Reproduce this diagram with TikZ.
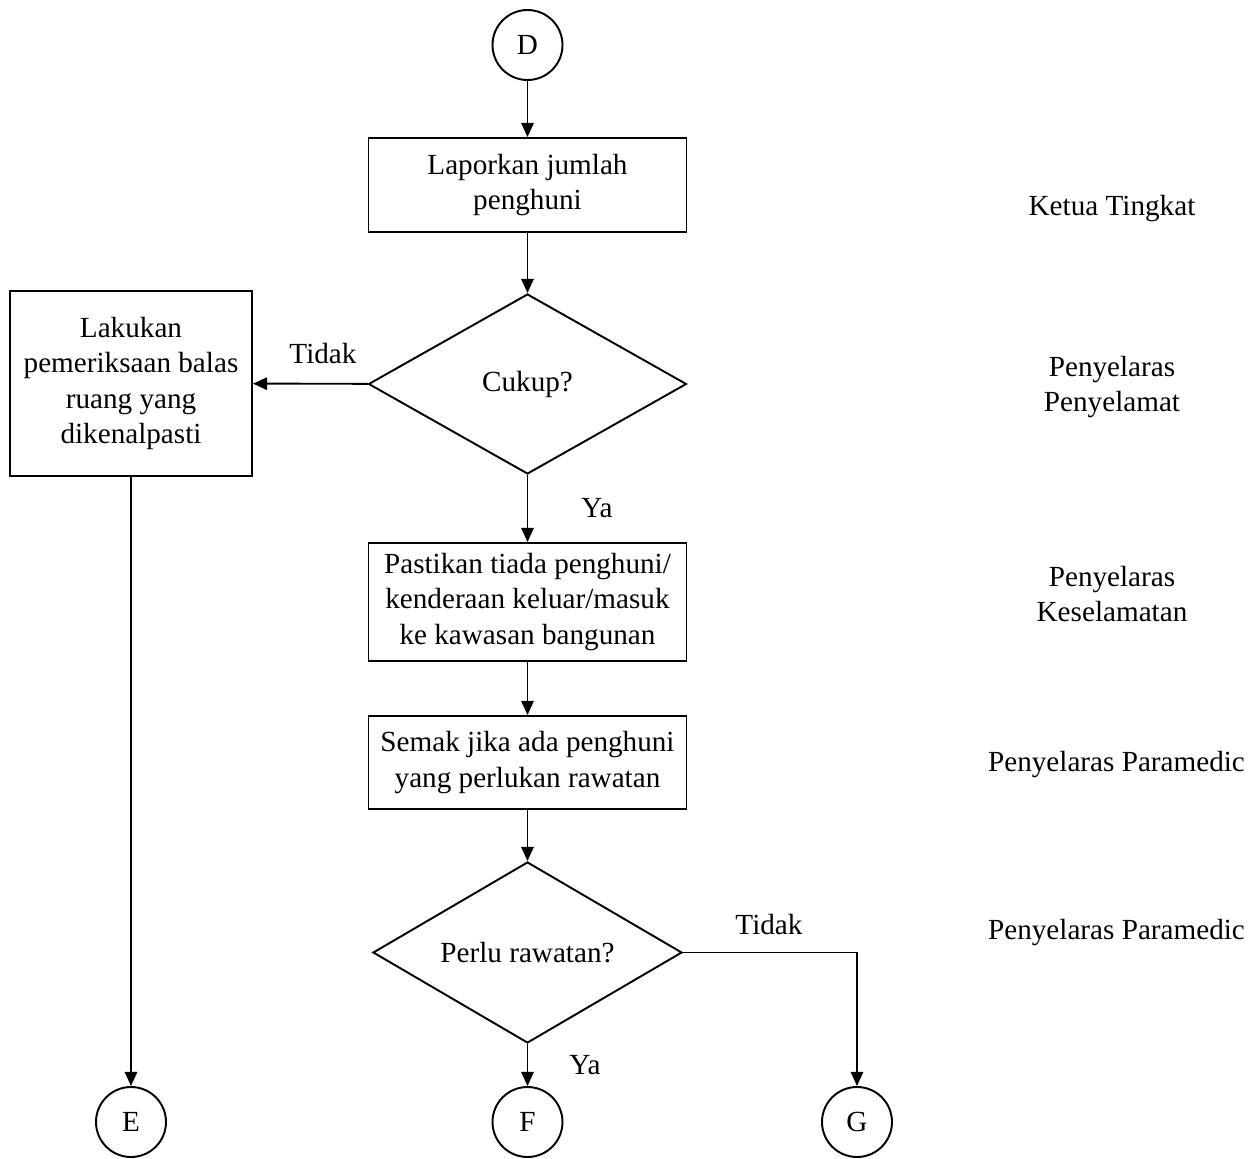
\documentclass[tikz,border=0pt]{standalone}
\usepackage{fontspec}
\newfontfamily\timesfont{Liberation Serif}
\usepackage{tikz}
\usetikzlibrary{arrows.meta,positioning,shapes.geometric}
\tikzset{
	box/.style={draw,rectangle,align=center,inner sep=2pt},
	dec/.style={draw,diamond,aspect=1.75,align=center,inner sep=0pt},
	conn/.style={draw,circle,minimum size=1.4cm,inner sep=0pt},
	role/.style={align=center},
	every picture/.style={line width=1.1pt,font=\timesfont\fontsize{16.6}{20}\selectfont},
	>={Triangle[length=8pt,width=7pt]}
}

\begin{document}
\begin{tikzpicture}
			\useasboundingbox (0,0) rectangle (25.16,-23.18);
			\node[conn] (d) at (10.55,-0.9) {D};
			\node[box,minimum width=6.36cm,minimum height=1.88cm] (lapor) at (10.55,-3.7) {Laporkan jumlah\\penghuni};
			\node[dec,minimum width=6.36cm,minimum height=3.6cm] (cukup) at (10.55,-7.68) {Cukup?};
			\node[box,minimum width=4.84cm,minimum height=3.7cm] (periksa) at (2.62,-7.67) {Lakukan\\pemeriksaan balas\\ruang yang\\dikenalpasti};
			\node[box,minimum width=6.36cm,minimum height=2.36cm] (pastikan) at (10.55,-12.04) {Pastikan tiada penghuni/\\kenderaan keluar/masuk\\ke kawasan bangunan};
			\node[box,minimum width=6.36cm,minimum height=1.86cm] (semak) at (10.55,-15.25) {Semak jika ada penghuni\\yang perlukan rawatan};
			\node[dec,minimum width=6.18cm,minimum height=3.62cm] (rawat) at (10.55,-19.05) {Perlu rawatan?};
			\node[conn] (e) at (2.62,-22.44) {E};
			\node[conn] (f) at (10.55,-22.44) {F};
			\node[conn] (g) at (17.14,-22.44) {G};
			
			\node (tidak1) at (6.46,-7.08) {Tidak};
			\node (ya1) at (11.94,-10.16) {Ya};
			\node (tidak2) at (15.38,-18.5) {Tidak};
			\node (ya2) at (11.7,-21.3) {Ya};
			
			\node[role] (ketua) at (22.24,-4.18) {Ketua Tingkat};
			\node[role] (penyelamat) at (22.24,-7.74) {Penyelaras\\Penyelamat};
			\node[role] (keselamatan) at (22.24,-11.88) {Penyelaras\\Keselamatan};
			\node[role] (paramedic1) at (22.33,-15.3) {Penyelaras Paramedic};
			\node[role] (paramedic2) at (22.33,-18.66) {Penyelaras Paramedic};
			
			\draw[->] (d) -- (lapor);
			\draw[->] (lapor) -- (cukup);
			\draw[->] (cukup) -- (periksa);
			\draw[->] (cukup) -- (pastikan);
			\draw[->] (pastikan) -- (semak);
			\draw[->] (semak) -- (rawat);
			\draw[->] (periksa) -- (e);
			\draw[->] (rawat) -- (f);
			\draw[->] (rawat) -| (g);
		\end{tikzpicture}
\end{document}
